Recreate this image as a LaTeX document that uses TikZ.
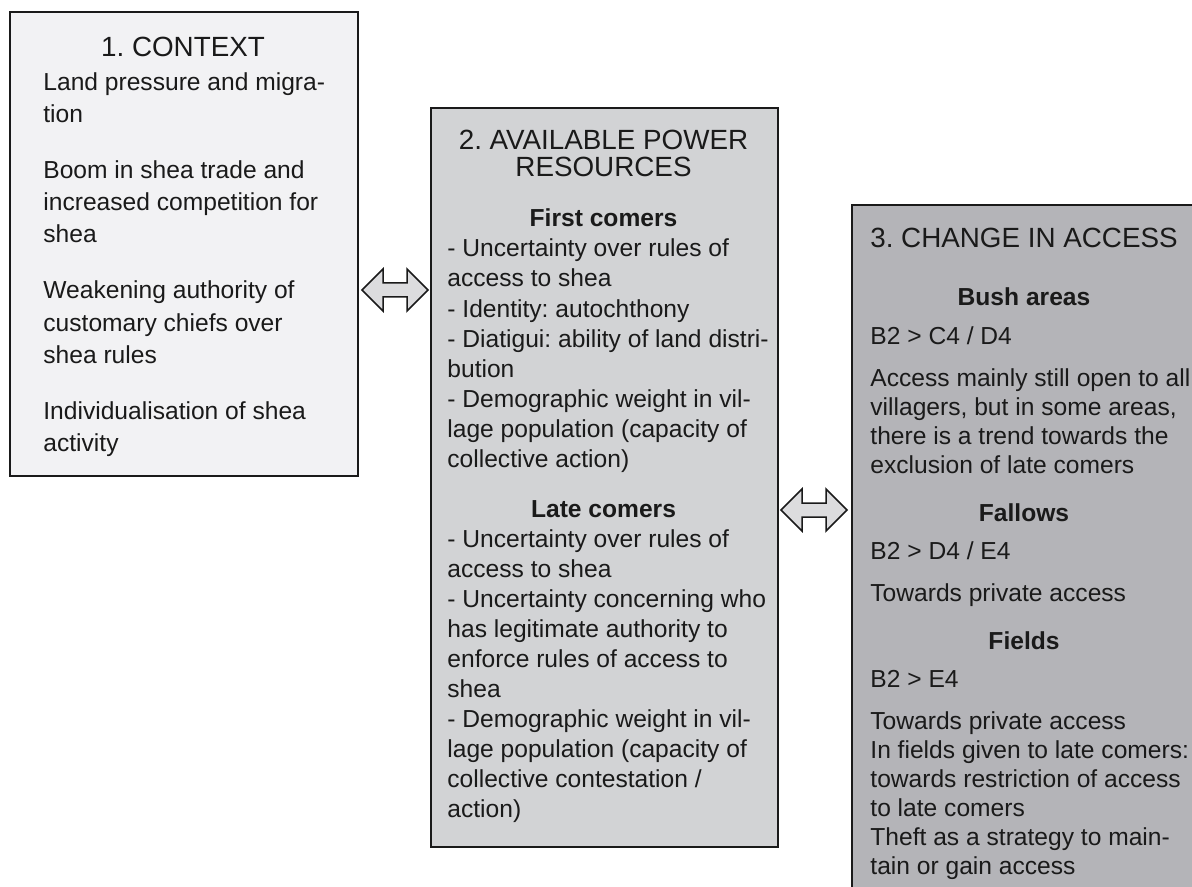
\documentclass[tikz,border=0pt]{standalone}
\usepackage{fontspec}
\setmainfont{Liberation Sans}
\frenchspacing
\definecolor{txt}{HTML}{1A1A1A}
\definecolor{fillA}{HTML}{F2F2F4}
\definecolor{fillB}{HTML}{D2D3D5}
\definecolor{fillC}{HTML}{B4B4B8}
\definecolor{arrowfill}{HTML}{DCDCDE}
\newcommand{\bodyfnt}{\fontsize{12.3}{14}\selectfont}
\newcommand{\titlefnt}{\fontsize{13.9}{14}\selectfont}
\begin{document}
\begin{tikzpicture}[x=0.5pt,y=-0.5pt,
  body/.style={anchor=base west, inner sep=0pt, font=\bodyfnt, text=txt},
  head/.style={anchor=base, inner sep=0pt, font=\bodyfnt\bfseries, text=txt},
  ttl/.style={anchor=base, inner sep=0pt, font=\titlefnt, text=txt},
  panel/.style={draw=txt, line width=1pt, anchor=north west, inner sep=0pt},
  fatarrow/.style={draw=txt, line width=0.75pt, fill=arrowfill, line join=miter}]
\useasboundingbox (0,0) rectangle (1192,887);
\clip (0,0) rectangle (1192,887);

% panels
\node[panel, fill=fillA, minimum width=174pt, minimum height=232pt] (p1) at (9,11) {};
\node[panel, fill=fillB, minimum width=173.5pt, minimum height=369.5pt] (p2) at (430,107) {};
\node[panel, fill=fillC, minimum width=175pt, minimum height=350pt] (p3) at (851,204) {};

% double arrows
\coordinate (a1) at (395,290);
\coordinate (a2) at (814,510);
\foreach \c in {a1,a2}{
  \draw[fatarrow] (\c) ++(-33,0) -- ++(21,-21) -- ++(0,14) -- ++(24,0) -- ++(0,-14)
     -- ++(21,21) -- ++(-21,21) -- ++(0,-14) -- ++(-24,0) -- ++(0,14) -- cycle;
}

% panel 1
\node[ttl] (t1) at (183,57) {1. CONTEXT};
\node[body] (c1) at (43,91) {Land pressure and migra-};
\node[body] (c2) at (43,123) {tion};
\node[body] (c3) at (43,179) {Boom in shea trade and};
\node[body] (c4) at (43,211) {increased competition for};
\node[body] (c5) at (43,243) {shea};
\node[body] (c6) at (43,299) {Weakening authority of};
\node[body] (c7) at (43,331) {customary chiefs over};
\node[body] (c8) at (43,363) {shea rules};
\node[body] (c9) at (43,419) {Individualisation of shea};
\node[body] (c10) at (43,451) {activity};

% panel 2
\node[ttl] (t2a) at (603.5,150) {2. AVAILABLE POWER};
\node[ttl] (t2b) at (603.5,177) {RESOURCES};
\node[head] (h1) at (603.5,227) {First comers};
\node[body] (f1) at (447,257) {- Uncertainty over rules of};
\node[body] (f2) at (447,287) {access to shea};
\node[body] (f3) at (447,317) {- Identity: autochthony};
\node[body] (f4) at (447,347) {- Diatigui: ability of land distri-};
\node[body] (f5) at (447,377) {bution};
\node[body] (f6) at (447,407) {- Demographic weight in vil-};
\node[body] (f7) at (447,437) {lage population (capacity of};
\node[body] (f8) at (447,467) {collective action)};
\node[head] (h2) at (603.5,517) {Late comers};
\node[body] (l1) at (447,547) {- Uncertainty over rules of};
\node[body] (l2) at (447,577) {access to shea};
\node[body] (l3) at (447,607) {- Uncertainty concerning who};
\node[body] (l4) at (447,637) {has legitimate authority to};
\node[body] (l5) at (447,667) {enforce rules of access to};
\node[body] (l6) at (447,697) {shea};
\node[body] (l7) at (447,727) {- Demographic weight in vil-};
\node[body] (l8) at (447,757) {lage population (capacity of};
\node[body] (l9) at (447,787) {collective contestation /};
\node[body] (l10) at (447,817) {action)};

% panel 3
\node[ttl] (t3) at (1024,248) {3. CHANGE IN ACCESS};
\node[head] (h3) at (1024,306) {Bush areas};
\node[body] (s1) at (870,344) {B2 > C4 / D4};
\node[body] (s2) at (870,386) {Access mainly still open to all};
\node[body] (s3) at (870,415) {villagers, but in some areas,};
\node[body] (s4) at (870,444) {there is a trend towards the};
\node[body] (s5) at (870,473) {exclusion of late comers};
\node[head] (h4) at (1024,521) {Fallows};
\node[body] (s6) at (870,559) {B2 > D4 / E4};
\node[body] (s7) at (870,601) {Towards private access};
\node[head] (h5) at (1024,649) {Fields};
\node[body] (s8) at (870,687) {B2 > E4};
\node[body] (s9) at (870,729) {Towards private access};
\node[body] (s10) at (870,758) {In fields given to late comers:};
\node[body] (s11) at (870,787) {towards restriction of access};
\node[body] (s12) at (870,816) {to late comers};
\node[body] (s13) at (870,845) {Theft as a strategy to main-};
\node[body] (s14) at (870,874) {tain or gain access};
\end{tikzpicture}
\end{document}
